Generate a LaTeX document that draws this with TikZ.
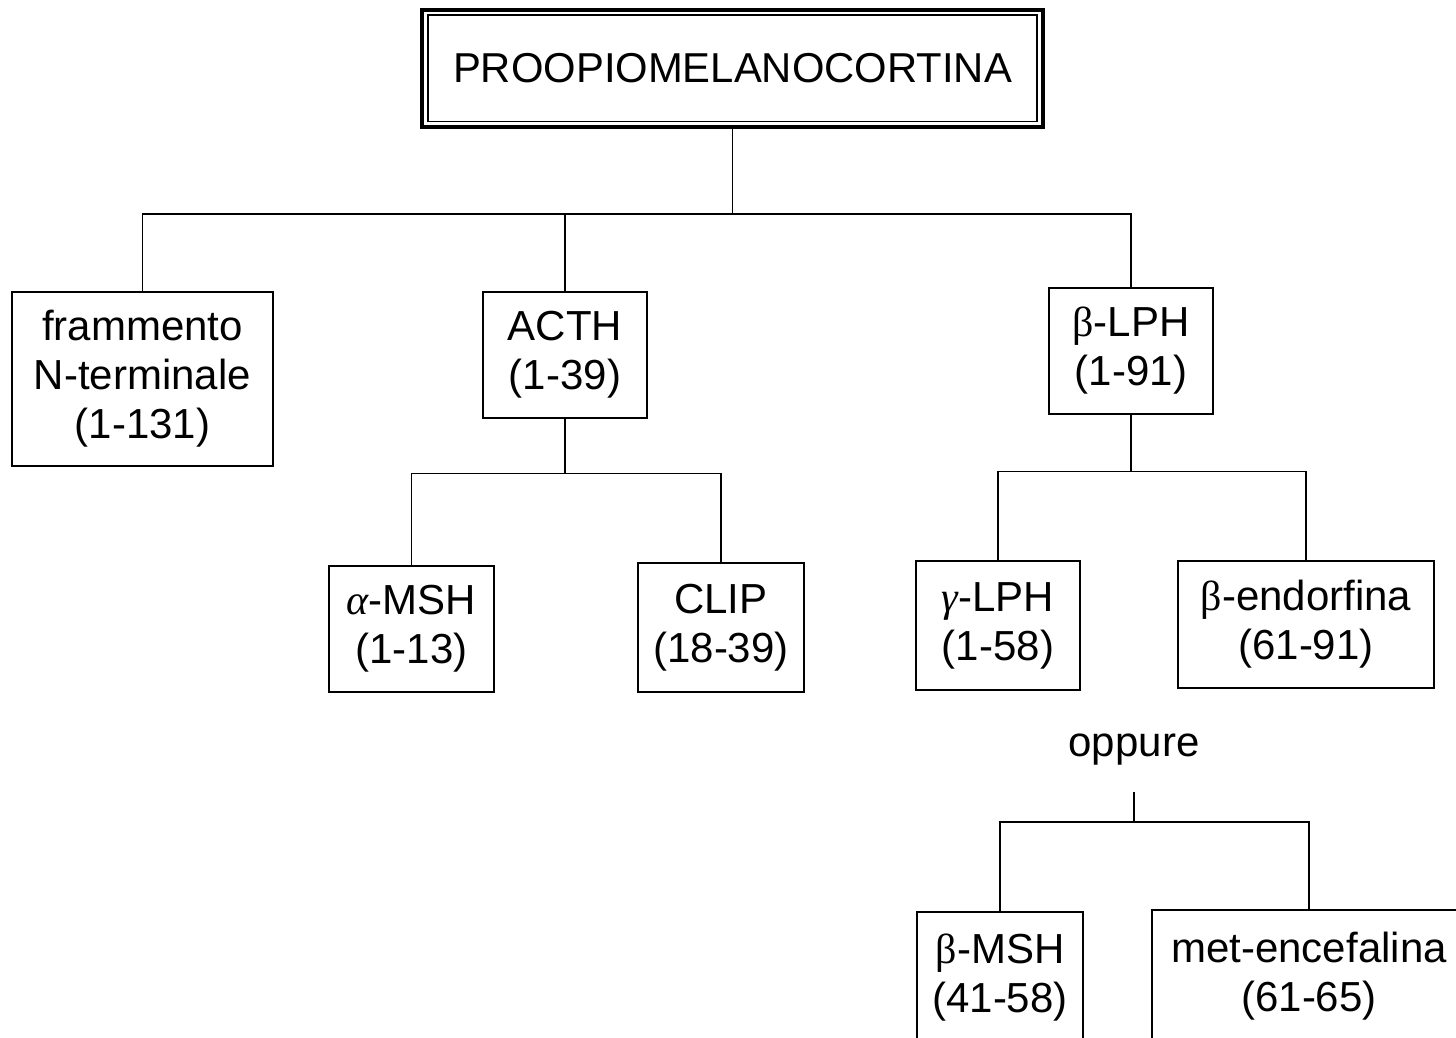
\documentclass[tikz,border=0pt]{standalone}
\usepackage{fontspec}
\setmainfont{Liberation Sans}
\newfontfamily\grk{Liberation Serif}
\usetikzlibrary{positioning,calc}

\tikzset{
  unitbox/.style={draw, line width=1.4pt, align=center, inner sep=0pt,
    font=\fontsize{21}{24.5}\selectfont},
  link/.style={line width=0.9pt},
}

\begin{document}
\begin{tikzpicture}[x=0.5pt, y=-0.5pt]
  % page frame
  \clip (0,0) rectangle (1456,1038);
  \fill[white] (0,0) rectangle (1456,1038);

  % root: double-framed box
  \node[unitbox, line width=1.8pt, minimum width=310.5pt, minimum height=58.5pt,
        font=\fontsize{20.9}{24}\selectfont] (pomc) at (732.5,68.5) {PROOPIOMELANOCORTINA};
  \draw[line width=0.9pt] ([shift={(3.8pt,-3.6pt)}]pomc.north west)
        rectangle ([shift={(-3.8pt,3.6pt)}]pomc.south east);

  % first level
  \node[unitbox, minimum width=130.5pt, minimum height=87pt] (fram) at (142.5,379)
        {frammento\\N-terminale\\(1-131)};
  \node[unitbox, minimum width=82pt, minimum height=63pt] (acth) at (565,355)
        {ACTH\\(1-39)};
  \node[unitbox, minimum width=82pt, minimum height=63pt] (blph) at (1131,351)
        {{\grk β}-LPH\\(1-91)};

  % second level
  \node[unitbox, minimum width=82.5pt, minimum height=63pt] (amsh) at (411.5,629)
        {{\grk\itshape α}-MSH\\(1-13)};
  \node[unitbox, minimum width=83pt, minimum height=64.5pt] (clip) at (721,627.5)
        {CLIP\\(18-39)};
  \node[unitbox, minimum width=82pt, minimum height=64.5pt] (glph) at (998,625.5)
        {{\grk\itshape γ}-LPH\\(1-58)};
  \node[unitbox, minimum width=128pt, minimum height=63.5pt] (bend) at (1306,624.5)
        {{\grk β}-endorfina\\(61-91)};

  % alternative cleavage
  \node[font=\fontsize{21}{24}\selectfont, inner sep=0pt] (opp) at (1134,750) {oppure};
  \node[unitbox, minimum width=83pt, minimum height=66pt] (bmsh) at (1000,978)
        {{\grk β}-MSH\\(41-58)};
  \node[unitbox, minimum width=157pt, minimum height=66pt] (menc) at (1309,976)
        {met-encefalina\\(61-65)};

  % connectors (y grows downwards here)
  \coordinate (j0) at ($(pomc.south)+(0,85)$);
  \draw[link] (pomc.south) -- (j0);
  \draw[link] (j0) -| (fram.north);
  \draw[link] (j0) -| (acth.north);
  \draw[link] (j0) -| (blph.north);

  \coordinate (j1) at ($(acth.south)+(0,54)$);
  \draw[link] (acth.south) -- (j1);
  \draw[link] (j1) -| (amsh.north);
  \draw[link] (j1) -| (clip.north);

  \coordinate (j2) at ($(blph.south)+(0,56)$);
  \draw[link] (blph.south) -- (j2);
  \draw[link] (j2) -| (glph.north);
  \draw[link] (j2) -| (bend.north);

  \coordinate (o1) at ($(opp.south)+(0,26)$);
  \coordinate (j3) at ($(opp.south)+(0,56)$);
  \draw[link] (o1) -- (j3);
  \draw[link] (j3) -| (bmsh.north);
  \draw[link] (j3) -| (menc.north);
\end{tikzpicture}
\end{document}
